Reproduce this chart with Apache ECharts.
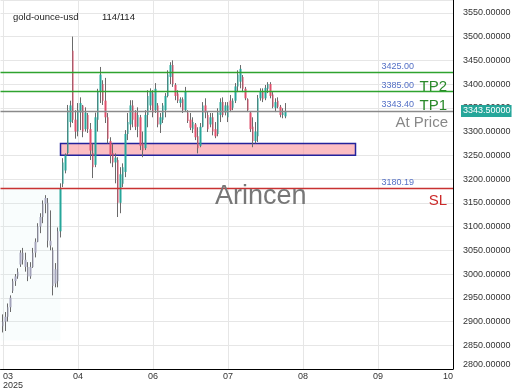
<!DOCTYPE html>
<html><head><meta charset="utf-8">
<script src="https://cdn.jsdelivr.net/npm/echarts@6/dist/echarts.min.js"></script>
<style>html,body{margin:0;padding:0;background:#fff}#c{width:520px;height:390px}</style>
</head><body><div id="c"></div>
<script>
// ---- axis structure ----
const slotCount = 182;            // category slots on the x axis (candles + empty future)
const firstCandleSlot = 1;
const tickSlots = [1, 31, 61, 91, 121, 151, 181];
const tickLabels = ['03\n2025', '04', '06', '07', '08', '09', '10'];
const yMin = 2800, yMax = 3577, yStep = 50;

// ---- candle values (114 candles) ----
const open = [2890,2900,2910,2930,2965,2985,2995,3020,3045,3030,3015,2995,3015,3045,3068,3100,3120,3148,3150,3070,3050,2980,2985,3090,
  3190,3218,3255,3320,3470,3325,3300,3340,3355,3305,3335,3305,3255,3230,3325,3385,3400,3365,3330,3280,3255,3235,3240,3150,3190,3215,
  3295,3315,3355,3340,3310,3330,3275,3265,3335,3355,3380,3345,3355,3315,3325,3345,3375,3415,3440,3398,3380,3360,3368,3345,3340,3325,
  3305,3315,3290,3270,3310,3355,3335,3315,3330,3305,3295,3335,3362,3340,3330,3365,3350,3365,3395,3405,3415,3390,3368,3340,3310,3280,
  3290,3370,3385,3370,3390,3400,3378,3350,3365,3352,3335,3332];
const close = [2900,2910,2930,2950,2985,2995,3005,3045,3030,3015,2995,3015,3045,3068,3100,3120,3148,3160,3070,3060,2975,3010,3090,3180,
  3235,3250,3345,3355,3325,3300,3345,3360,3300,3340,3305,3260,3225,3330,3385,3420,3365,3330,3285,3250,3235,3245,3150,3210,3225,3295,
  3320,3355,3325,3310,3335,3270,3260,3335,3375,3385,3340,3390,3315,3330,3355,3375,3420,3440,3400,3375,3365,3368,3345,3385,3322,3308,
  3320,3288,3265,3310,3355,3340,3305,3330,3300,3290,3340,3362,3335,3355,3355,3345,3365,3395,3420,3432,3390,3370,3345,3305,3280,3300,
  3370,3385,3368,3392,3400,3375,3352,3362,3352,3335,3340,3343.5];
const low = [2877,2880,2900,2920,2960,2975,2990,3015,3020,3005,2985,2990,3013,3035,3067,3086,3107,3128,3056,3050,2955,2972,2972,3077,
  3183,3212,3250,3309,3318,3285,3290,3303,3288,3300,3297,3240,3202,3225,3300,3360,3356,3318,3275,3233,3225,3191,3120,3128,3183,3204,
  3282,3303,3309,3303,3288,3261,3246,3261,3309,3345,3330,3339,3309,3297,3318,3330,3372,3400,3394,3366,3360,3351,3339,3343,3318,3303,
  3297,3282,3254,3267,3309,3328,3299,3309,3292,3286,3290,3320,3330,3334,3320,3341,3345,3360,3383,3391,3383,3366,3341,3299,3267,3275,
  3278,3365,3362,3366,3381,3370,3349,3341,3349,3330,3328,3328];
const high = [2915,2920,2938,2955,2990,3000,3012,3050,3055,3045,3025,3025,3055,3075,3107,3128,3155,3166,3160,3134,3056,3023,3098,3191,
  3244,3254,3356,3365,3500,3345,3360,3372,3356,3351,3339,3318,3275,3340,3390,3436,3408,3413,3339,3288,3275,3254,3246,3225,3233,3303,
  3339,3366,3366,3345,3351,3335,3300,3345,3387,3391,3387,3402,3360,3339,3360,3381,3429,3446,3450,3402,3387,3372,3372,3394,3345,3339,
  3330,3318,3309,3318,3362,3370,3341,3339,3339,3320,3349,3370,3372,3362,3362,3377,3370,3402,3429,3440,3419,3394,3370,3342,3330,3320,
  3377,3391,3391,3398,3404,3404,3383,3370,3372,3356,3349,3360];
const fadedCandles = 23;          // early candles drawn in grey

// ---- levels and zone ----
const tp3Level = 3425.00;
const tp2Level = 3385.00;
const tp1Level = 3343.40;
const slLevel = 3180.19;
const lastPrice = 3343.5;
const zoneLow = 3250, zoneHigh = 3275, zoneFromSlot = 24, zoneToSlot = 142;

// ---- build ----
const categories = Array.from({length: slotCount}, (_, i) => String(i));
const wickData = open.map((o, k) => [k + firstCandleSlot, o, close[k], low[k], high[k]]);
const bodyData = open.map((o, k) => {
  const c = close[k];
  const item = {value: [k + firstCandleSlot, o, c, Math.min(o, c), Math.max(o, c)]};
  if (k < fadedCandles) item.itemStyle = {color: '#a4a4bc', color0: '#a4a4bc', borderColor: '#a4a4bc', borderColor0: '#a4a4bc'};
  return item;
});

const green = '#2fa32f';
const grayLine = '#8a8a8a';
const redLine = '#c83232';
const FONT = 'Liberation Sans, Arial, sans-serif';
const levelSeries = (name, v, color) => ({
  type: 'line', name: name, data: [], z: 2, silent: true, color: color,
  markLine: {
    silent: true, symbol: 'none', animation: false,
    lineStyle: {color: color, width: 1.3, type: 'solid', opacity: 1},
    label: {show: true, position: 'insideEndTop', formatter: v.toFixed(2), color: '#5470c6', fontSize: 9, distance: [39, 1.5]},
    data: [{yAxis: v}]
  }
});

const chart = echarts.init(document.getElementById('c'), null, {renderer: 'canvas'});
chart.setOption({
  animation: false,
  textStyle: {fontFamily: FONT},
  title: [
    {text: 'gold-ounce-usd', left: 8, top: 7, textStyle: {fontSize: 9.5, fontWeight: 'normal', color: '#222'}},
    {text: '114/114', left: 97, top: 7, textStyle: {fontSize: 9.5, fontWeight: 'normal', color: '#222'}},
    {text: 'Arincen', left: 210, top: 178, textStyle: {fontSize: 27, fontWeight: 'normal', color: '#777'}}
  ],
  grid: {left: 0, right: 67, top: 0, bottom: 21},
  xAxis: {
    type: 'category', data: categories, boundaryGap: false,
    axisLine: {show: true, onZero: false, lineStyle: {color: '#000', width: 1}},
    axisTick: {show: false},
    axisLabel: {
      interval: (i) => tickSlots.includes(i),
      formatter: (v, i) => tickLabels[tickSlots.indexOf(i)] || '',
      fontSize: 9, color: '#333', margin: 3, lineHeight: 9,
      alignMinLabel: 'left', alignMaxLabel: 'right'
    },
    splitLine: {show: true, interval: (i) => tickSlots.includes(i), lineStyle: {color: '#e6e6e6', width: 1}}
  },
  yAxis: {
    type: 'value', position: 'right', min: yMin, max: yMax, interval: yStep,
    axisLine: {show: true, lineStyle: {color: '#000', width: 1}},
    axisTick: {show: false},
    axisLabel: {formatter: (v) => v.toFixed(5), fontSize: 9, color: '#333', margin: 10,
      showMaxLabel: false, verticalAlignMinLabel: 'bottom'},
    splitLine: {show: true, lineStyle: {color: '#e6e6e6', width: 1}}
  },
  series: [
    {
      type: 'line', name: 'zones', data: [], z: 1, silent: true,
      markArea: {
        silent: true,
        data: [
          [{xAxis: 0, yAxis: 3195, itemStyle: {color: 'rgba(205,240,240,0.12)', borderWidth: 0}}, {xAxis: 24, yAxis: 2860}],
          [{xAxis: zoneFromSlot, yAxis: zoneHigh, itemStyle: {color: 'rgba(250,150,158,0.62)', borderColor: '#23239c', borderWidth: 1.5}},
           {xAxis: zoneToSlot, yAxis: zoneLow}]
        ]
      }
    },
    levelSeries('tp3', tp3Level, green),
    levelSeries('tp2', tp2Level, green),
    levelSeries('tp1', tp1Level, grayLine),
    levelSeries('sl', slLevel, redLine),
    {
      type: 'candlestick', name: 'wick', data: wickData, encode: {x: 0, y: [1, 2, 3, 4]},
      barWidth: 0.5, z: 3,
      itemStyle: {color: '#6a6a6a', color0: '#6a6a6a', borderColor: '#6a6a6a', borderColor0: '#6a6a6a', borderWidth: 1}
    },
    {
      type: 'candlestick', name: 'body', data: bodyData, encode: {x: 0, y: [1, 2, 3, 4]},
      barWidth: 2, z: 4,
      itemStyle: {color: '#26a69a', color0: '#df4f6b', borderColor: '#26a69a', borderColor0: '#df4f6b', borderWidth: 0}
    }
  ]
});

// level tags placed through the axes' own scales
const xEnd = chart.convertToPixel({xAxisIndex: 0}, slotCount - 1);
const yOf = (v) => chart.convertToPixel({yAxisIndex: 0}, v);
const tag = (text, color, x, y, vAlign, extra) => ({
  type: 'text', x: x, y: y, silent: true, z: 10,
  style: Object.assign({text: text, fill: color, fontSize: 15, fontFamily: FONT, align: 'right', verticalAlign: vAlign}, extra || {})
});
chart.setOption({
  graphic: [
    tag('TP2', '#2a8a2a', xEnd - 6, yOf(tp2Level) + 3, 'bottom'),
    tag('TP1', '#2a8a2a', xEnd - 6, yOf(tp1Level) + 2, 'bottom'),
    tag('At Price', '#888', xEnd - 5, yOf(tp1Level) + 4.5, 'top'),
    tag('SL', '#cc2a2a', xEnd - 6, yOf(slLevel) + 5, 'top'),
    tag(lastPrice.toFixed(5), '#fff', xEnd + 8, yOf(lastPrice), 'middle',
      {align: 'left', fontSize: 9, backgroundColor: '#26a69a', padding: [2, 1, 1, 2]})
  ]
});
</script>
</body></html>
